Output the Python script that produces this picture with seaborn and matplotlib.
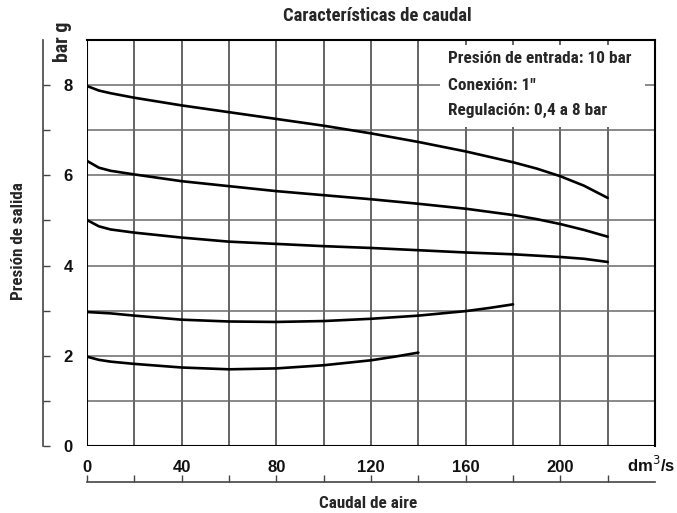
import matplotlib
matplotlib.use("Agg")
import matplotlib.pyplot as plt
from matplotlib.patches import Rectangle
from matplotlib import font_manager
import seaborn as sns
import pandas as pd

# ---- data ----
x_8 = [0, 5, 10, 20, 40, 60, 80, 100, 120, 140, 160, 180, 190, 200, 210, 220]
y_8 = [7.98, 7.88, 7.82, 7.72, 7.55, 7.40, 7.25, 7.10, 6.93, 6.74, 6.53, 6.29, 6.15, 5.98, 5.77, 5.50]
x_6 = [0, 5, 10, 20, 40, 60, 80, 100, 120, 140, 160, 180, 190, 200, 210, 220]
y_6 = [6.32, 6.17, 6.10, 6.02, 5.87, 5.76, 5.65, 5.56, 5.47, 5.37, 5.26, 5.12, 5.03, 4.92, 4.79, 4.64]
x_5 = [0, 5, 10, 20, 40, 60, 80, 100, 120, 140, 160, 180, 200, 210, 220]
y_5 = [5.01, 4.87, 4.80, 4.73, 4.62, 4.53, 4.48, 4.43, 4.39, 4.34, 4.29, 4.25, 4.19, 4.15, 4.08]
x_3 = [0, 10, 20, 40, 60, 80, 100, 120, 140, 160, 170, 180]
y_3 = [2.97, 2.94, 2.89, 2.80, 2.76, 2.75, 2.77, 2.82, 2.89, 2.99, 3.06, 3.14]
x_2 = [0, 5, 10, 20, 40, 60, 80, 100, 120, 130, 140]
y_2 = [1.98, 1.91, 1.87, 1.82, 1.74, 1.70, 1.72, 1.79, 1.90, 1.98, 2.07]

x_major = [0, 40, 80, 120, 160, 200]
x_minor = [20, 60, 100, 140, 180, 220]
y_major = [0, 2, 4, 6, 8]
y_minor = [1, 3, 5, 7]

title = "Características de caudal"
xlabel = "Caudal de aire"
ylabel = "Presión de salida"
yunit = "bar g"
xunit = "dm$^3$/s"
info_lines = ["Presión de entrada: 10 bar", "Conexión: 1\"", "Regulación: 0,4 a 8 bar"]

frames = []
for name, xs, ys in [("8", x_8, y_8), ("6", x_6, y_6), ("5", x_5, y_5),
                     ("3", x_3, y_3), ("2", x_2, y_2)]:
    frames.append(pd.DataFrame({"caudal": xs, "presion": ys, "serie": name}))
df = pd.concat(frames, ignore_index=True)

sns.set_style("white")
plt.rcParams["font.family"] = ["Liberation Sans", "DejaVu Sans"]

# pick a narrow bold family (like Helvetica/Arial Narrow Bold)
available = {}
for f in font_manager.fontManager.ttflist:
    if f.style == "normal" and f.weight in (700, "bold"):
        available.setdefault(f.name, f.fname)
narrow_fname = None
for fam in ["Liberation Sans Narrow", "Arial Narrow", "Roboto Condensed",
            "Open Sans Condensed", "Asap Condensed", "Barlow Semi Condensed",
            "Barlow Condensed"]:
    if fam in available:
        narrow_fname = available[fam]
        break


def nfp(size):
    if narrow_fname:
        p = font_manager.FontProperties(fname=narrow_fname)
    else:
        p = font_manager.FontProperties(family="DejaVu Sans", weight="bold")
    p.set_size(size)
    return p


W, H = 677, 513
PT = 72 / 100.0
fig = plt.figure(figsize=(W / 100, H / 100), dpi=100)
L, R, B, T = 87, 655, 446, 40
ax = fig.add_axes([L / W, (H - B) / H, (R - L) / W, (B - T) / H])

sns.lineplot(data=df, x="caudal", y="presion", hue="serie", units="serie",
             estimator=None, sort=False, palette=["black"] * 5, legend=False,
             linewidth=1.9, ax=ax, zorder=5)

ax.set_xlim(0, 240)
ax.set_ylim(0, 9)
ax.set_xticks(x_major)
ax.set_xticks(x_minor, minor=True)
ax.set_yticks(y_major)
ax.set_yticks(y_minor, minor=True)

ax.grid(which="both", axis="x", color="#3a3a3a", linewidth=1.1, zorder=1)
ax.grid(which="both", axis="y", color="#6a6a6a", linewidth=1.1, zorder=1)
ax.set_axisbelow(True)

ax.axvline(0, color="black", linewidth=1.5, zorder=3)
ax.axhline(0, color="black", linewidth=1.5, zorder=3)
for s in ["top", "right"]:
    ax.spines[s].set_color("black")
    ax.spines[s].set_linewidth(1.5)

ax.spines["left"].set_position(("outward", 44 * PT))
ax.spines["bottom"].set_position(("outward", 36 * PT))
for s in ["left", "bottom"]:
    ax.spines[s].set_color("#444444")
    ax.spines[s].set_linewidth(1.2)

ax.tick_params(axis="y", which="both", direction="in", length=5, width=1.0,
               color="#444444", left=True)
ax.tick_params(axis="y", which="major", pad=-30 * PT)
ax.tick_params(axis="x", which="both", direction="in", length=5, width=1.0,
               color="#444444", bottom=True)
ax.tick_params(axis="x", which="major", pad=-22 * PT)
for lab in ax.get_xticklabels() + ax.get_yticklabels():
    lab.set_fontfamily(["Liberation Sans", "DejaVu Sans"])
    lab.set_fontweight("bold")
    lab.set_fontsize(12)
    lab.set_color("#111111")

ax.set_xlabel("")
ax.set_ylabel("")

renderer = fig.canvas.get_renderer()


def fit_text(xpx, ypx, s, target, vertical=False, base=11.0, **kw):
    t = fig.text(xpx / W, 1 - ypx / H, s, ha=kw.pop("ha", "center"), va="center",
                 rotation=90 if vertical else 0, fontproperties=nfp(base), **kw)
    bb = t.get_window_extent(renderer)
    cur = bb.height if vertical else bb.width
    size = base * target / cur
    t.set_fontproperties(nfp(size))
    return size


fit_text(377, 16, title, 189)
fit_text(368, 503, xlabel, 98)
fit_text(19, 241, ylabel, 117, vertical=True)
fit_text(63, 42, yunit, 40, vertical=True)
fig.text(651 / W, 1 - 465 / H, xunit, ha="center", va="center",
         fontsize=12, fontweight="bold", family=["Liberation Sans", "DejaVu Sans"],
         color="#111111")

# info box
ax.add_patch(Rectangle(((440 - L) / (R - L), (B - 127) / (B - T)),
                       (645 - 440) / (R - L), (127 - 45) / (B - T),
                       transform=ax.transAxes, facecolor="white",
                       edgecolor="none", zorder=4))
isize = fit_text(448, 59, info_lines[0], 182, ha="left")
for i, line in enumerate(info_lines[1:]):
    ypx = [85, 110][i]
    fig.text(448 / W, 1 - ypx / H, line, ha="left", va="center",
             fontproperties=nfp(isize))

fig.savefig("out.png", dpi=100)
